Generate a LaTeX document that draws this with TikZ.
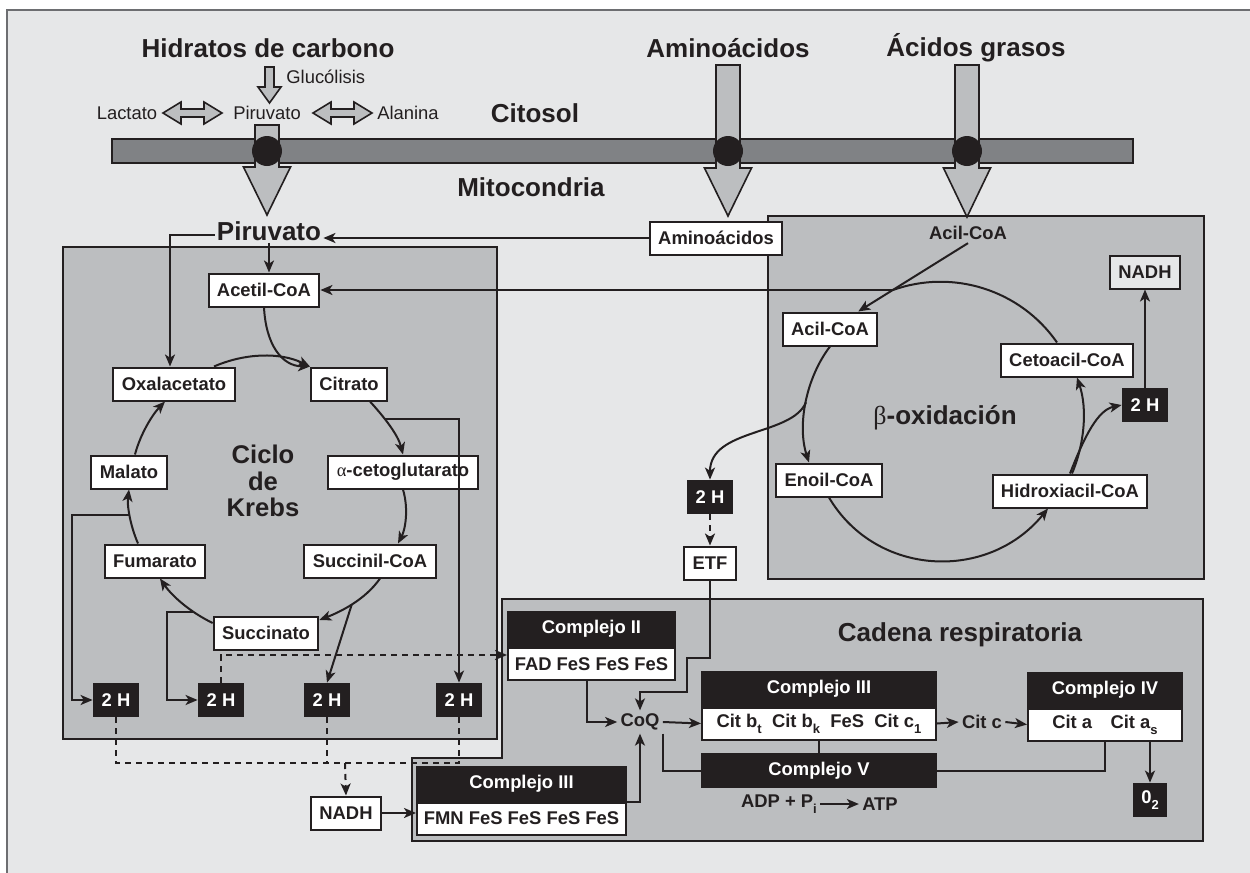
\documentclass[tikz,border=0pt]{standalone}
\usepackage{fontspec}
\setmainfont{Liberation Sans}
\newfontfamily\greekfont{Liberation Serif}
\usetikzlibrary{arrows.meta,positioning}

\definecolor{ink}{HTML}{231F20}
\definecolor{bgc}{HTML}{E6E7E8}
\definecolor{boxc}{HTML}{BCBEC0}
\definecolor{barc}{HTML}{808285}
\definecolor{framec}{HTML}{6D6E71}

\newcommand{\boxfont}{\fontsize{9.2}{10}\selectfont\bfseries}
\newcommand{\titlefont}{\fontsize{13}{14}\selectfont\bfseries}
\newcommand{\smallfont}{\fontsize{9.2}{10}\selectfont}
\newcommand{\krebsfont}{\fontsize{12.8}{13.3}\selectfont\bfseries}
\newcommand{\lowsub}[1]{\raisebox{-0.6ex}{\fontsize{6.5}{6.5}\selectfont #1}}
\newcommand{\grk}[1]{{\greekfont\mdseries #1}}

% block arrow pointing down: centre x, top y, head start y, tip y
\newcommand{\blockdown}[4]{%
  \filldraw[blockarr] ({#1-12},#2) -- ({#1+12},#2) -- ({#1+12},#3) -- ({#1+23.5},#3)
    -- (#1,#4) -- ({#1-23.5},#3) -- ({#1-12},#3) -- cycle;}
% block arrow with two heads: left x, right x, y
\newcommand{\blockboth}[3]{%
  \filldraw[blockarr] (#1,#3) -- ({#1+18},{#3-11}) -- ({#1+18},{#3-4}) -- ({#2-18},{#3-4})
    -- ({#2-18},{#3-11}) -- (#2,#3) -- ({#2-18},{#3+11}) -- ({#2-18},{#3+4})
    -- ({#1+18},{#3+4}) -- ({#1+18},{#3+11}) -- cycle;}

\begin{document}
\begin{tikzpicture}[x=0.5pt, y=-0.5pt,
    box/.style={draw=ink, fill=white, line width=1pt, font=\boxfont, text=ink, inner xsep=4.2pt, inner ysep=0pt, minimum height=16.5pt},
    hbox/.style={fill=ink, text=white, font=\boxfont, minimum width=23pt, minimum height=17pt, inner sep=0pt},
    chead/.style={draw=ink, fill=ink, text=white, line width=1pt, font=\boxfont, minimum height=17pt, inner sep=0pt},
    cbody/.style={draw=ink, fill=white, text=ink, line width=1pt, font=\boxfont, minimum height=16pt, inner sep=0pt},
    titletxt/.style={font=\titlefont, text=ink, inner sep=1pt},
    smalltxt/.style={font=\smallfont, text=ink, inner sep=1pt},
    plaintxt/.style={font=\boxfont, text=ink, inner sep=1.5pt},
    area/.style={draw=ink, fill=boxc, line width=1.2pt},
    blockarr/.style={draw=ink, fill=boxc, line width=0.8pt},
    link/.style={draw=ink, line width=1pt},
    arrow/.style={link, -{Stealth[length=6pt, width=5pt, inset=1.6pt]}},
    dashline/.style={link, dash pattern=on 3pt off 2.5pt},
    dasharrow/.style={dashline, -{Stealth[length=6pt, width=5pt, inset=1.6pt]}}
]
\useasboundingbox (0,0) rectangle (1250,873);

% Background
\fill[bgc] (7,10) rectangle (1250,873);
\draw[framec, line width=1pt] (7,873) -- (7,10) -- (1250,10);

% Membrane
\filldraw[draw=ink, fill=barc, line width=0.8pt] (112,139) rectangle (1133,163);

% Compartments
\filldraw[area] (63,247) rectangle (497,739);
\filldraw[area] (768,216) rectangle (1204,579);
\filldraw[area] (502,599) -- (1203,599) -- (1203,841) -- (412,841) -- (412,758) -- (502,758) -- cycle;

% Transport arrows
\blockdown{267}{125}{167}{215}
\blockdown{728}{65}{168}{216}
\blockdown{967}{65}{168}{217}
\filldraw[blockarr] (265,67) -- (274,67) -- (274,87) -- (281,87) -- (269.5,103) -- (258,87) -- (265,87) -- cycle;
\blockboth{163}{222}{113}
\blockboth{313}{372}{113}
\fill[ink] (267,151) circle[radius=15];
\fill[ink] (728,151) circle[radius=15];
\fill[ink] (967,151) circle[radius=15];

% Titles
\node[titletxt] (hidr) at (268,48) {Hidratos de carbono};
\node[titletxt] (aminot) at (728,48) {Aminoácidos};
\node[titletxt] (acidt) at (976,48) {Ácidos grasos};
\node[titletxt] (cito) at (535,113) {Citosol};
\node[titletxt] (mito) at (531,187) {Mitocondria};

% Citosol
\node[smalltxt, anchor=west] (gluc) at (284,77) {Glucólisis};
\node[smalltxt] (lact) at (127,113) {Lactato};
\node[smalltxt] (pirc) at (267,113) {Piruvato};
\node[smalltxt] (alan) at (408,113) {Alanina};

% Ciclo de Krebs
\node[titletxt] (piruv) at (269,231) {Piruvato};
\node[box] (amino) at (716,238) {Aminoácidos};
\node[box] (acetil) at (264,290) {Acetil-CoA};
\node[box] (oxal) at (174,384) {Oxalacetato};
\node[box] (citr) at (349,384) {Citrato};
\node[box] (akg) at (403,472) {\grk{α}-cetoglutarato};
\node[box] (mal) at (129,472) {Malato};
\node[box] (fum) at (155,561) {Fumarato};
\node[box] (succoa) at (370,561) {Succinil-CoA};
\node[box] (succ) at (266,633) {Succinato};
\node[font=\krebsfont, text=ink, align=center] (krebs) at (263,481) {Ciclo\\de\\Krebs};
\node[hbox] (h1) at (116,700) {2 H};
\node[hbox] (h2) at (221,700) {2 H};
\node[hbox] (h3) at (327,700) {2 H};
\node[hbox] (h4) at (459,700) {2 H};
\node[box] (nadh) at (346,813) {NADH};

% Beta-oxidacion
\node[plaintxt] (acil0) at (968,233) {Acil-CoA};
\node[box] (acil) at (830,329) {Acil-CoA};
\node[box] (enoil) at (829,480) {Enoil-CoA};
\node[box] (hidrox) at (1070,491) {Hidroxiacil-CoA};
\node[box] (ceto) at (1067,360) {Cetoacil-CoA};
\node[hbox] (hb) at (1145,405) {2 H};
\node[box, fill=bgc] (nadhb) at (1145,272) {NADH};
\node[titletxt] (beta) at (945,418) {\grk{β}-oxidación};
\node[hbox] (hetf) at (710,497) {2 H};
\node[box] (etf) at (710,563) {ETF};
\coordinate (bjoin) at (893,290);

% Cadena respiratoria
\node[titletxt] (cadena) at (960,635) {Cadena respiratoria};
\node[chead, minimum width=83.5pt] (cIIh) at (591.5,629) {Complejo II};
\node[cbody, minimum width=83.5pt, below=0pt of cIIh] (cIIb) {FAD FeS FeS FeS};
\node[chead, minimum width=117pt] (cIIIh) at (819,688.5) {Complejo III};
\node[cbody, minimum width=117pt, below=0pt of cIIIh] (cIIIb) {Cit b\lowsub{t}\ \ Cit b\lowsub{k}\ \ FeS\ \ Cit c\lowsub{1}};
\node[chead, minimum width=77pt] (cIVh) at (1105,689.5) {Complejo IV};
\node[cbody, minimum width=77pt, below=0pt of cIVh] (cIVb) {Cit a\quad Cit a\lowsub{s}};
\node[chead, minimum width=117pt, minimum height=16.5pt] (cV) at (819,770.5) {Complejo V};
\node[chead, minimum width=104.5pt] (cIh) at (521.5,783.5) {Complejo III};
\node[cbody, minimum width=104.5pt, below=0pt of cIh] (cIb) {FMN FeS FeS FeS FeS};
\node[plaintxt] (coq) at (640,722) {CoQ};
\node[plaintxt] (citc) at (982,722) {Cit c};
\node[hbox, minimum width=17pt] (o2) at (1150,800) {0\lowsub{2}};
\node[plaintxt] (adp) at (779,804) {ADP + P\lowsub{i}};
\node[plaintxt] (atp) at (880,804) {ATP};

% Arrows: entry
\draw[arrow] (amino.west) -- (amino.west -| piruv.east);
\draw[arrow] (piruv.south) -- (piruv.south |- acetil.north);
\draw[arrow] ([yshift=-2pt]piruv.west) -| ([xshift=-2pt]oxal.north);
\draw[arrow] (bjoin) -- (bjoin -| acetil.east);

% Arrows: Krebs
\draw[arrow] (acetil.south) .. controls (266,345) and (282,366) .. (citr.north west);
\draw[arrow] ([xshift=20pt]oxal.north) .. controls (245,353) and (280,352) .. (citr.north west);
\draw[arrow] ([xshift=10.5pt]citr.south) .. controls (385,418) and (398,435) .. coordinate[pos=0.35] (cab) (akg.north);
\draw[arrow] (akg.south) .. controls (409,510) and (405,530) .. ([xshift=14pt]succoa.north);
\draw[arrow] ([xshift=5pt]succoa.south) .. controls (365,600) and (340,612) .. coordinate[pos=0.5] (scb) ([yshift=6.5pt]succ.east);
\draw[arrow] ([yshift=5pt]succ.west) .. controls (190,612) and (172,596) .. coordinate[pos=0.3] (sfb) ([xshift=2.5pt]fum.south);
\draw[arrow] ([xshift=-8.5pt]fum.north) .. controls (130,525) and (127,505) .. coordinate[pos=0.5] (fmb) (mal.south);
\draw[arrow] ([xshift=3pt]mal.north) .. controls (140,435) and (152,415) .. ([xshift=-4.5pt]oxal.south);
\draw[arrow] (cab) -| (h4.north);
\draw[arrow] (scb) -- (h3.north);
\draw[arrow] (sfb) -- ++(-27,0) |- (h2.west);
\draw[arrow] (fmb) -- ++(-58,0) |- (h1.west);

% Arrows: 2 H to NADH and Complejo II
\coordinate (bus) at (345,763);
\draw[dashline] (h1.south) |- (bus) -| (h4.south);
\draw[dashline] (h3.south) -- (h3.south |- bus);
\draw[dasharrow] (bus) -- (nadh.north);
\draw[dasharrow] (h2.north) |- ([yshift=4.5pt]cIIb.west);

% Arrows: beta-oxidacion
\draw[arrow] (acil0.south) -- ([xshift=-10pt]acil.north east);
\draw[arrow] (acil.south) .. controls (806,378) and (797,425) .. coordinate[pos=0.5] (bbr) ([xshift=-10pt]enoil.north);
\draw[arrow] (enoil.south) .. controls (876,577) and (988,582) .. ([xshift=-11pt]hidrox.south);
\draw[arrow] ([xshift=1pt]hidrox.north) .. controls (1084.5,444) and (1087.5,409) .. ([xshift=5pt]ceto.south);
\draw[link] ([xshift=-5pt]ceto.north) .. controls (1020.6,290) and (953,268.5) .. (bjoin);
\draw[arrow] (hidrox.north) .. controls (1085,435) and (1098,410) .. (hb.west);
\draw[arrow] (hb.north) -- (nadhb.south);
\draw[arrow] (bbr) .. controls (792,436) and (710,428) .. (hetf.north);
\draw[dasharrow] (hetf) -- (etf);

% Arrows: cadena respiratoria
\draw[arrow] (etf.south) -- ++(0,77) -| ++(-23,34) -| (coq.north);
\draw[arrow] ([xshift=-2.5pt]cIIb.south) |- (coq.west);
\draw[arrow] (cIb.north east) -| (coq.south);
\draw[arrow] (nadh.east) -- (nadh.east -| cIb.west);
\draw[arrow] (coq.east) -- (cIIIb.west);
\draw[link] (coq.south east) |- (cV.west);
\draw[link] (cIIIb.south) -- (cV.north);
\draw[link] (cV.east) -| (cIVb.south);
\draw[arrow] (cIIIb.east) -- (citc.west);
\draw[arrow] (citc.east) -- (cIVb.west);
\draw[arrow] (cIVb.south -| o2.north) -- (o2.north);
\draw[arrow] (adp) -- (atp);

\end{tikzpicture}
\end{document}
